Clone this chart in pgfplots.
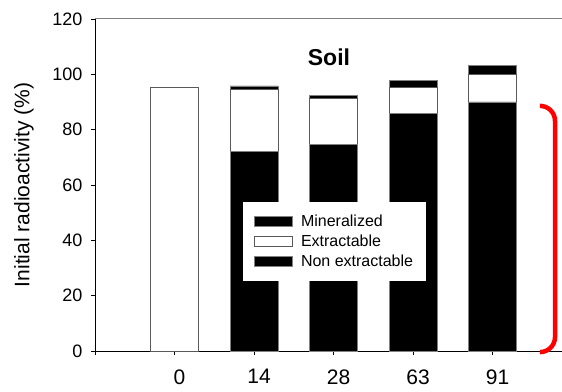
\documentclass[border=0pt]{standalone}
\usepackage{fontspec}
\setmainfont{Liberation Sans}
\usepackage{pgfplots}
\pgfplotsset{compat=1.18}
\begin{document}
\begin{tikzpicture}
\path[use as bounding box] (-95pt,-40pt) rectangle (467pt,351pt);
\begin{axis}[
  at={(0pt,0pt)}, anchor=south west,
  scale only axis, width=467pt, height=332pt,
  xmin=-1, xmax=4.874, ymin=0, ymax=120,
  enlarge x limits=false, clip=false,
  ybar stacked, bar width=48pt,
  axis x line*=bottom, axis y line*=left,
  axis line style={-, black, line width=0.9pt},
  xtick={-1,0,1,2,3,4}, xticklabels={,0,14,28,63,91},
  ytick={0,20,...,120},
  tick align=outside, major tick length=4pt,
  tick style={black, line width=0.8pt},
  /pgf/number format/assume math mode=true,
  yticklabel style={font=\fontsize{18}{21}\selectfont, xshift=-5pt},
  xticklabel style={font=\fontsize{21}{25}\selectfont, yshift=-11pt, xshift=5pt},
  ylabel={Initial radioactivity (\%)},
  ylabel style={font=\fontsize{21}{25}\selectfont, at={(axis description cs:-0.152,0.5)}, anchor=center},
  reverse legend,
  legend cell align=left,
  legend style={at={(0.317,0.449)}, anchor=north west, draw=none, fill=white,
    font=\fontsize{16}{19}\selectfont, inner xsep=11pt, inner ysep=11pt,
    row sep=3pt, /tikz/every odd column/.append style={column sep=6pt}},
  legend image code/.code={\draw[#1] (0pt,-5pt) rectangle (38pt,5pt);},
]
\addplot[fill=black, draw=gray, line width=0.8pt] coordinates {(0,0) (1,72.0) (2,74.5) (3,85.7) (4,90.0)};
\addlegendentry{Non extractable}
\addplot[fill=white, draw=gray!70!black, line width=0.8pt] coordinates {(0,95.2) (1,22.6) (2,16.8) (3,9.6) (4,9.9)};
\addlegendentry{Extractable}
\addplot[fill=black, draw=gray, line width=0.8pt] coordinates {(0,0) (1,1.2) (2,1.2) (3,2.6) (4,3.2)};
\addlegendentry{Mineralized}
\draw[gray, line width=1pt] (rel axis cs:0,1) -- (rel axis cs:1,1);
\node[font=\bfseries\fontsize{23}{27}\selectfont, anchor=base] at (axis cs:1.943,103.1) {Soil};
\draw[red, line width=4.5pt, rounded corners=15pt] (axis cs:4.597,88.6) -- (axis cs:4.786,88.6) -- (axis cs:4.786,-0.4) -- (axis cs:4.597,-0.4);
\end{axis}
\end{tikzpicture}
\end{document}
